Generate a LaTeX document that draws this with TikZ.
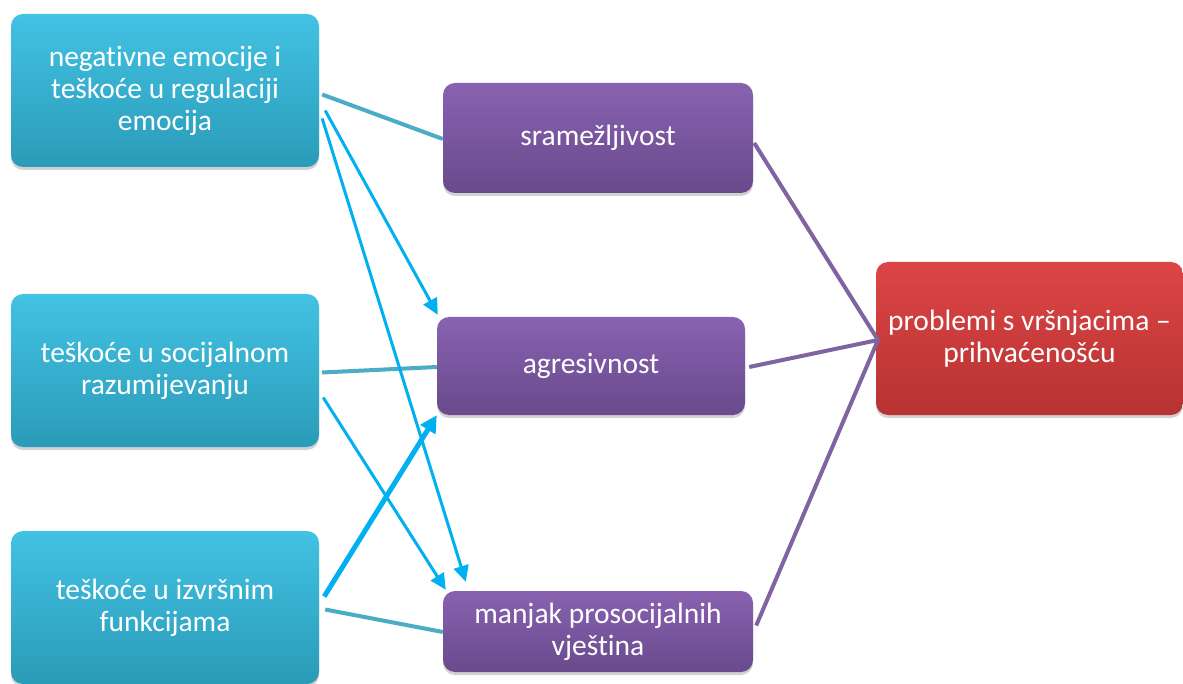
\documentclass[tikz,border=0pt]{standalone}
\usepackage{fontspec}
\setmainfont{Carlito}[Ligatures=NoCommon]
\usetikzlibrary{arrows.meta,shadows,calc}
\definecolor{cyanT}{HTML}{43C2E3}
\definecolor{cyanB}{HTML}{2A9BB8}
\definecolor{purT}{HTML}{8862B0}
\definecolor{purB}{HTML}{694A8C}
\definecolor{redT}{HTML}{DC4545}
\definecolor{redB}{HTML}{B83232}
\definecolor{teal}{HTML}{4BACC6}
\definecolor{sky}{HTML}{00B0F0}
\definecolor{purline}{HTML}{8064A2}
\tikzset{
  box/.style={rounded corners=12pt, text=white, align=center,
    font=\fontsize{29.5}{32}\selectfont, inner sep=0pt,
    drop shadow={opacity=0.35, shadow xshift=0pt, shadow yshift=-3pt}},
  leftbox/.style={box, top color=cyanT, bottom color=cyanB, minimum width=308pt, minimum height=153pt},
  midbox/.style={box, top color=purT, bottom color=purB, minimum width=310pt},
  redbox/.style={box, top color=redT, bottom color=redB, minimum width=307pt, minimum height=153pt},
  tealline/.style={draw=teal, line width=4pt},
  skyarrow/.style={draw=sky, line width=3pt, -{Triangle[length=16pt,width=15pt]}},
  skythick/.style={draw=sky, line width=5pt, -{Triangle[length=17pt,width=17pt]}},
  purlink/.style={draw=purline, line width=4pt}
}
\begin{document}
\begin{tikzpicture}[x=1pt,y=-1pt]
\useasboundingbox[fill=white] (0,0) rectangle (1183,684);
\node[leftbox] (n1) at (165,90.5) {negativne emocije i\\teškoće u regulaciji\\emocija};
\node[leftbox] (n2) at (165,370.5) {teškoće u socijalnom\\razumijevanju};
\node[leftbox] (n3) at (165,607.5) {teškoće u izvršnim\\funkcijama};
\node[midbox, minimum height=110pt] (m1) at (598,138) {sramežljivost};
\node[midbox, minimum height=98pt, minimum width=308pt] (m2) at (591,366) {agresivnost};
\node[midbox, minimum height=81pt] (m3) at (598,631.5) {manjak prosocijalnih\\vještina};
\node[redbox] (r) at (1029.5,338.5) {problemi s vršnjacima –\\prihvaćenošću};
\coordinate (rin) at (878,340);
% teal links
\draw[tealline] ($(n1.east)+(3,4)$) -- ($(m1.west)+(0,1)$);
\draw[tealline] ($(n2.east)+(3,2)$) -- ($(m2.west)+(0,1)$);
\draw[tealline] ($(n3.east)+(6,2)$) -- ($(m3.west)+(0,0.5)$);
% sky arrows
\draw[skyarrow] ($(n1.east)+(6,20)$) -- ($(m2.north west)+(1,-2)$);
\draw[skyarrow] ($(n1.east)+(3,28)$) -- ($(m3.north west)+(23,-9)$);
\draw[skyarrow] ($(n2.east)+(4,27)$) -- ($(m3.north west)+(3,-1)$);
\draw[skythick] ($(n3.east)+(5,-11)$) -- ($(m2.south west)+(0,0)$);
% purple links
\draw[purlink] ($(m1.east)+(1,5)$) -- (rin);
\draw[purlink] ($(m2.east)+(4,1)$) -- (rin);
\draw[purlink] ($(m3.east)+(3,-6)$) -- (rin);
\end{tikzpicture}
\end{document}
